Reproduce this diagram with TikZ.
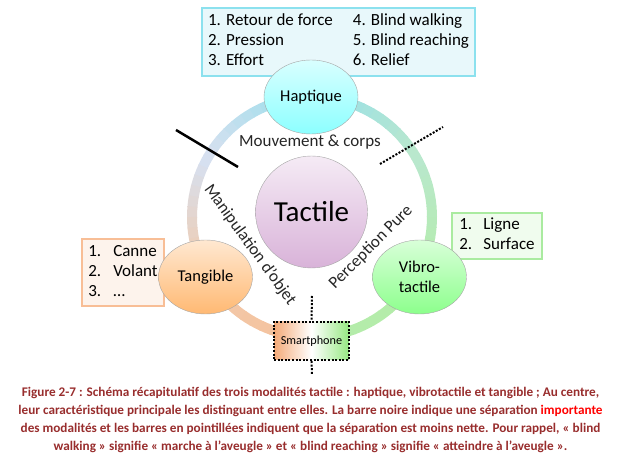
\documentclass[tikz,border=0pt]{standalone}
\usepackage{fontspec}
\setmainfont{Carlito}
\usetikzlibrary{shapes,positioning}
\definecolor{capred}{RGB}{152,45,45}
\definecolor{ringcyan}{RGB}{150,222,234}
\definecolor{ringpale}{RGB}{214,224,240}
\definecolor{ringpeach}{RGB}{242,202,170}
\definecolor{ringorange}{RGB}{245,192,155}
\definecolor{ringgreen}{RGB}{180,236,170}
\definecolor{ringmint}{RGB}{185,232,205}
\definecolor{hapbord}{RGB}{140,225,238}
\definecolor{hapfill}{RGB}{232,248,251}
\definecolor{tanbord}{RGB}{248,190,150}
\definecolor{tanfill}{RGB}{253,243,236}
\definecolor{vibbord}{RGB}{170,235,160}
\definecolor{vibfill}{RGB}{240,252,238}
\definecolor{smorange}{RGB}{244,170,120}
\definecolor{smgreen}{RGB}{150,232,130}

\begin{document}
\begin{tikzpicture}[x=1pt,y=1pt]
\tikzstyle{modal}=[ellipse, draw=gray!70, minimum width=94pt, minimum height=74pt, inner sep=0pt, align=center, font=\fontsize{16.5}{20}\selectfont]
\tikzstyle{listbox}=[draw, line width=1.5pt, inner sep=0pt, font=\fontsize{17}{20}\selectfont]
\tikzstyle{ring}=[line width=10pt]
\tikzstyle{bar}=[line width=2.5pt]
\tikzstyle{dotbar}=[line width=2pt, dash pattern=on 2pt off 1.6pt]
\tikzstyle{arclabel}=[font=\fontsize{17}{19}\selectfont, text=black!85, inner sep=0pt]

\useasboundingbox (0,0) rectangle (621,465);
\coordinate (ctr) at (312,248);

% ring, colour changes along the arc
\foreach \sa/\ea/\ca/\cb in {90/150/ringcyan/ringpale, 150/210/ringpale/ringpeach, 210/270/ringpeach/ringorange,
  270/330/ringgreen/ringgreen, 330/390/ringgreen/ringmint, 390/450/ringmint/ringcyan}{
  \foreach \k in {0,...,11}{
    \pgfmathsetmacro\ang{\sa+(\ea-\sa)*\k/12}
    \pgfmathtruncatemacro\pc{100*\k/11}
    \draw[ring, color=\cb!\pc!\ca] ([shift={(\ang:120pt)}]ctr) arc[start angle=\ang, delta angle=5.4, radius=120pt];
  }
}

% separations
\coordinate (b1) at (176,335);
\coordinate (b2) at (238,298);
\draw[bar] (b1) -- (b2);
\coordinate (d1) at (380,301);
\coordinate (d2) at (443,338);
\draw[dotbar] (d1) -- (d2);

% lists
\node[listbox, draw=hapbord, fill=hapfill, minimum width=273pt, minimum height=68pt] (haplist) at (338.5,423)
  {\begin{tabular}{@{}l@{\hspace{20pt}}l@{}}
   1. Retour de force & 4. Blind walking\\
   2. Pression & 5. Blind reaching\\
   3. Effort & 6. Relief
   \end{tabular}};
\node[listbox, draw=tanbord, fill=tanfill, minimum width=82pt, minimum height=67pt] (tanlist) at (123,192.5)
  {\begin{tabular}{@{}p{25pt}@{}l@{}}
   1. & Canne\\
   2. & Volant\\
   3. & …
   \end{tabular}};
\node[listbox, draw=vibbord, fill=vibfill, minimum width=90pt, minimum height=46pt] (viblist) at (497,229)
  {\begin{tabular}{@{}p{24pt}@{}l@{}}
   1. & Ligne\\
   2. & Surface
   \end{tabular}};

% modalities
\node[modal, top color=cyan!15, bottom color=cyan!45!white] (hap) at (311,368) {Haptique};
\node[modal, top color=orange!18, bottom color=orange!55!white] (tan) at (205.5,188) {Tangible};
\node[modal, top color=green!15, bottom color=green!45!white] (vib) at (419.5,188) {Vibro-\\tactile};
\node[circle, draw=gray!70, minimum size=112pt, inner sep=0pt, top color=violet!8, bottom color=violet!30!white,
  font=\fontsize{29}{32}\selectfont] (tac) at (311.5,253) {Tactile};

\node[draw, dotbar, minimum width=75pt, minimum height=38pt, inner sep=0pt, left color=smorange, right color=smgreen,
  middle color=white, font=\fontsize{12.2}{14}\selectfont] (smart) at (311.5,124) {Smartphone};
\coordinate (v1) at (312,169);
\coordinate (v2) at (312,90);
\draw[dotbar] (v1) -- (smart.north);
\draw[dotbar] (smart.south) -- (v2);

% characteristics
\node[arclabel] (mvt) at (310,323) {Mouvement \& corps};
\node[arclabel, rotate=-54] (manip) at (250,220) {Manipulation d’objet};
\node[arclabel, rotate=45] (percep) at (371,218) {Perception Pure};

% caption
\node[text=capred, align=center, font=\bfseries\fontsize{13.2}{17.8}\selectfont] (cap) at (310.5,45)
  {Figure 2-7 : Schéma récapitulatif des trois modalités tactile : haptique, vibrotactile et tangible ; Au centre,\\
   leur caractéristique principale les distinguant entre elles. La barre noire indique une séparation {\color{red}importante}\\
   des modalités et les barres en pointillées indiquent que la séparation est moins nette. Pour rappel, « blind\\
   walking » signifie « marche à l’aveugle » et « blind reaching » signifie « atteindre à l’aveugle ».};
\end{tikzpicture}
\end{document}
